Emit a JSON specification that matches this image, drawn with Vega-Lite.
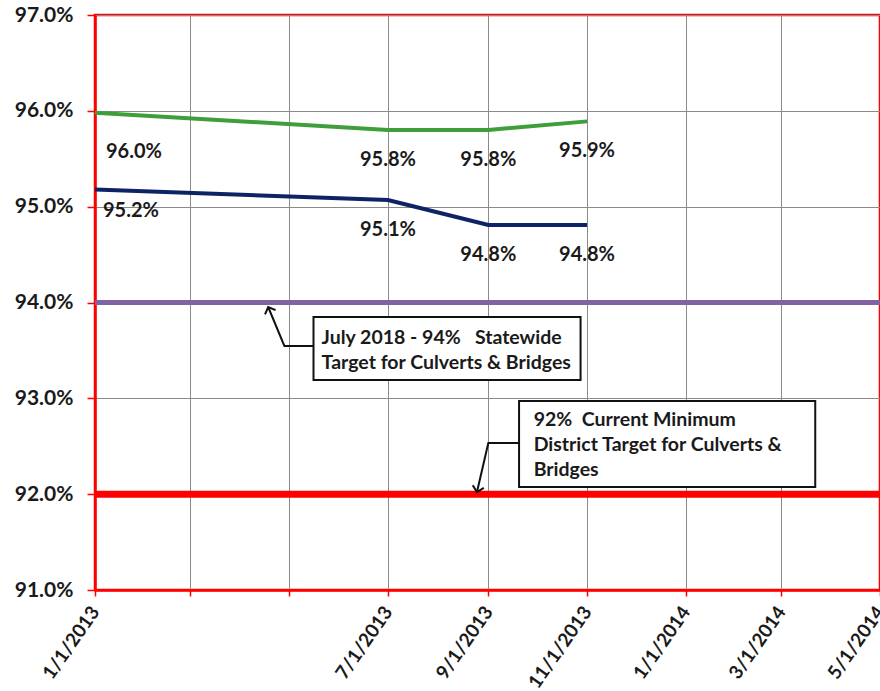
{
  "$schema": "https://vega.github.io/schema/vega-lite/v6.json",
  "width": 785,
  "height": 575,
  "autosize": "none",
  "padding": {"left": 95, "top": 15, "right": 0, "bottom": 101},
  "background": "white",
  "config": {
    "view": {"stroke": "#ff0000", "strokeWidth": 2.5},
    "font": "Lato",
    "axis": {
      "domainColor": "#ff0000",
      "domainWidth": 2.5,
      "tickColor": "#ff0000",
      "tickWidth": 1.5,
      "gridColor": "#8a8a8a",
      "gridWidth": 1,
      "labelFont": "Lato",
      "labelFontWeight": "bold",
      "labelColor": "#1a1a1a",
      "title": null
    }
  },
  "datasets": {
    "series": [
      {"date": "2013-01-01", "series": "Green", "value": 0.9598, "first": true},
      {"date": "2013-07-01", "series": "Green", "value": 0.9580, "first": false},
      {"date": "2013-09-01", "series": "Green", "value": 0.9580, "first": false},
      {"date": "2013-11-01", "series": "Green", "value": 0.9589, "first": false},
      {"date": "2013-01-01", "series": "Blue", "value": 0.9518, "first": true},
      {"date": "2013-07-01", "series": "Blue", "value": 0.9507, "first": false},
      {"date": "2013-09-01", "series": "Blue", "value": 0.9481, "first": false},
      {"date": "2013-11-01", "series": "Blue", "value": 0.9481, "first": false}
    ],
    "boxes": [
      {"box": 1, "x": "2013-05-16", "x2": "2013-10-28", "y": 0.93849, "y2": 0.93191, "tx": "2013-05-21", "ty": 0.93725, "label": ["July 2018 - 94% \u00a0 Statewide", "Target for Culverts & Bridges"]},
      {"box": 2, "x": "2013-09-20", "x2": "2014-03-22", "y": 0.92972, "y2": 0.92075, "tx": "2013-09-29", "ty": 0.92865, "label": ["92% \u00a0Current Minimum", "District Target for Culverts &", "Bridges"]}
    ],
    "arrows": [
      {"arrow": 1, "order": 1, "date": "2013-05-16", "value": 0.93546, "tip": false},
      {"arrow": 1, "order": 2, "date": "2013-04-28", "value": 0.93546, "tip": false},
      {"arrow": 1, "order": 3, "date": "2013-04-18", "value": 0.93953, "tip": true},
      {"arrow": 2, "order": 1, "date": "2013-09-20", "value": 0.92534, "tip": false},
      {"arrow": 2, "order": 2, "date": "2013-09-01", "value": 0.92534, "tip": false},
      {"arrow": 2, "order": 3, "date": "2013-08-25", "value": 0.92022, "tip": true}
    ],
    "targets": [
      {"target": "Statewide", "value": 0.94},
      {"target": "District", "value": 0.92}
    ]
  },
  "layer": [
    {
      "data": {"name": "targets"},
      "transform": [{"filter": "datum.target == 'Statewide'"}],
      "mark": {"type": "rule", "color": "#8064a2", "strokeWidth": 5},
      "encoding": {
        "y": {
          "field": "value",
          "type": "quantitative",
          "scale": {"domain": [0.91, 0.97], "nice": false, "zero": false},
          "axis": {
            "values": [0.91, 0.92, 0.93, 0.94, 0.95, 0.96, 0.97],
            "format": ".1%",
            "labelFontSize": 21,
            "tickSize": 8,
            "labelPadding": 14
          }
        }
      }
    },
    {
      "data": {"name": "targets"},
      "transform": [{"filter": "datum.target == 'District'"}],
      "mark": {"type": "rule", "color": "#ff0000", "strokeWidth": 7},
      "encoding": {"y": {"field": "value", "type": "quantitative"}}
    },
    {
      "data": {"name": "series"},
      "mark": {"type": "line", "strokeWidth": 4},
      "encoding": {
        "x": {
          "field": "date",
          "type": "temporal",
          "scale": {
            "type": "utc",
            "domain": [
              {"year": 2013, "month": 1, "date": 1, "utc": true},
              {"year": 2014, "month": 5, "date": 1, "utc": true}
            ],
            "nice": false
          },
          "axis": {
            "values": [
              {"year": 2013, "month": 1, "date": 1, "utc": true},
              {"year": 2013, "month": 3, "date": 1, "utc": true},
              {"year": 2013, "month": 5, "date": 1, "utc": true},
              {"year": 2013, "month": 7, "date": 1, "utc": true},
              {"year": 2013, "month": 9, "date": 1, "utc": true},
              {"year": 2013, "month": 11, "date": 1, "utc": true},
              {"year": 2014, "month": 1, "date": 1, "utc": true},
              {"year": 2014, "month": 3, "date": 1, "utc": true},
              {"year": 2014, "month": 5, "date": 1, "utc": true}
            ],
            "labelExpr": "(utcyear(datum.value) == 2013 && (utcmonth(datum.value) == 2 || utcmonth(datum.value) == 4)) ? '' : utcFormat(datum.value, '%-m/%-d/%Y')",
            "labelAngle": -55,
            "labelFontSize": 19,
            "tickSize": 6,
            "labelPadding": 12,
            "labelOverlap": false
          }
        },
        "y": {"field": "value", "type": "quantitative"},
        "detail": {"field": "series"},
        "color": {
          "field": "series",
          "type": "nominal",
          "scale": {"domain": ["Green", "Blue"], "range": ["#3e9e3a", "#0e2266"]},
          "legend": null
        }
      }
    },
    {
      "data": {"name": "series"},
      "transform": [{"filter": "!datum.first"}],
      "mark": {"type": "text", "fontSize": 20, "fontWeight": "bold", "color": "#1a1a1a", "dy": 30, "align": "center", "baseline": "middle"},
      "encoding": {
        "x": {"field": "date", "type": "temporal"},
        "y": {"field": "value", "type": "quantitative"},
        "text": {"field": "value", "type": "quantitative", "format": ".1%"}
      }
    },
    {
      "data": {"name": "series"},
      "transform": [{"filter": "datum.first && datum.series == 'Green'"}],
      "mark": {"type": "text", "fontSize": 20, "fontWeight": "bold", "color": "#1a1a1a", "dx": 11, "dy": 39, "align": "left", "baseline": "middle"},
      "encoding": {
        "x": {"field": "date", "type": "temporal"},
        "y": {"field": "value", "type": "quantitative"},
        "text": {"field": "value", "type": "quantitative", "format": ".1%"}
      }
    },
    {
      "data": {"name": "series"},
      "transform": [{"filter": "datum.first && datum.series == 'Blue'"}],
      "mark": {"type": "text", "fontSize": 20, "fontWeight": "bold", "color": "#1a1a1a", "dx": 8, "dy": 22, "align": "left", "baseline": "middle"},
      "encoding": {
        "x": {"field": "date", "type": "temporal"},
        "y": {"field": "value", "type": "quantitative"},
        "text": {"field": "value", "type": "quantitative", "format": ".1%"}
      }
    },
    {
      "data": {"name": "boxes"},
      "mark": {"type": "rect", "fill": "white", "stroke": "#111111", "strokeWidth": 2},
      "encoding": {
        "x": {"field": "x", "type": "temporal"},
        "x2": {"field": "x2"},
        "y": {"field": "y", "type": "quantitative"},
        "y2": {"field": "y2"}
      }
    },
    {
      "data": {"name": "boxes"},
      "mark": {"type": "text", "fontSize": 19.5, "fontWeight": "bold", "color": "#1a1a1a", "align": "left", "baseline": "top", "lineHeight": 25},
      "encoding": {
        "x": {"field": "tx", "type": "temporal"},
        "y": {"field": "ty", "type": "quantitative"},
        "text": {"field": "label"}
      }
    },
    {
      "data": {"name": "arrows"},
      "mark": {"type": "line", "color": "#111111", "strokeWidth": 2},
      "encoding": {
        "x": {"field": "date", "type": "temporal"},
        "y": {"field": "value", "type": "quantitative"},
        "detail": {"field": "arrow"},
        "order": {"field": "order"}
      }
    },
    {
      "data": {"name": "arrows"},
      "transform": [{"filter": "datum.tip && datum.arrow == 1"}],
      "mark": {"type": "point", "shape": "M-1,1L0,0L1,1", "filled": false, "stroke": "#111111", "strokeWidth": 2, "size": 130, "angle": 338, "opacity": 1},
      "encoding": {
        "x": {"field": "date", "type": "temporal"},
        "y": {"field": "value", "type": "quantitative"}
      }
    },
    {
      "data": {"name": "arrows"},
      "transform": [{"filter": "datum.tip && datum.arrow == 2"}],
      "mark": {"type": "point", "shape": "M-1,1L0,0L1,1", "filled": false, "stroke": "#111111", "strokeWidth": 2, "size": 130, "angle": 193, "opacity": 1},
      "encoding": {
        "x": {"field": "date", "type": "temporal"},
        "y": {"field": "value", "type": "quantitative"}
      }
    }
  ]
}
